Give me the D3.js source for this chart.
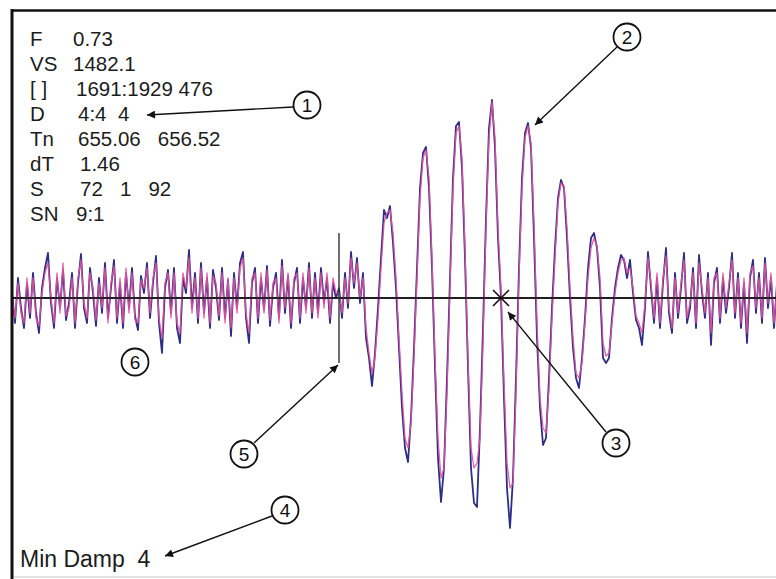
<!DOCTYPE html>
<html>
<head>
<meta charset="utf-8">
<script src="https://cdn.jsdelivr.net/npm/d3@7"></script>
<style>
  html, body { margin: 0; padding: 0; background: #fff; }
  svg { display: block; }
  text { font-family: "Liberation Sans", Arial, Helvetica, sans-serif; }
</style>
</head>
<body>
<svg id="chart" width="776" height="579"></svg>
<script>
// ---------------- DATA ----------------
// Waveform amplitudes (arbitrary units, + = up), one sample per time step
const blueTrace = [
  5, -25, 20, -10, -30, 15, -20, 25, -15, -35,
  10, 30, 45, -5, -30, 20, -10, 28, -22, -5,
  25, -30, 15, 44, -10, -25, 30, 5, -28, 20,
  -15, 35, -20, 10, 38, -25, 15, -30, 25, -10,
  30, -18, -32, 22, 5, 35, -20, 15, 42, -25,
  -55, 10, 28, -15, 30, -30, -45, 20, 5, 48,
  -10, 25, -25, 35, -15, 20, -30, 28, 10, -22,
  30, -20, 18, -38, 25, -10, 35, 46, -20, -45,
  15, 30, -25, 20, -12, 32, -28, 10, 25, -20,
  38, -15, 22, -30, 15, 30, -25, 20, -10, 35,
  -20, 25, -15, 30, -5, 20, -25, 15, 0, 10,
  -20, 25, -10, 46, 10, 40, -5, 25, -40, -60,
  -88, -55, -10, 40, 88, 80, 92, 55, 10, -50,
  -110, -150, -164, -120, -50, 30, 110, 145, 151, 110,
  30, -70, -160, -204, -170, -80, 20, 120, 172, 176,
  130, 40, -70, -170, -205, -209, -130, -30, 80, 170,
  198, 150, 60, 0, -100, -190, -230, -180, -80, 30,
  120, 165, 175, 150, 60, -40, -110, -147, -140, -80,
  -10, 50, 100, 118, 110, 60, 0, -50, -80, -90,
  -60, -20, 30, 60, 65, 50, 10, -60, -65, -60,
  -20, 10, 30, 43, 38, 20, 38, 5, -22, -30,
  -47, -10, 46, 10, -25, 20, -30, 15, 50, -15,
  -35, 25, -20, 10, 45, -25, -10, 30, -30, 43,
  5, -20, 25, -47, 15, 30, -25, 20, -15, 10,
  45, -20, 25, -30, 15, -45, 20, 38, -15, 25,
  -25, 40, -10, 20, -30, 15
];
const pinkTrace = [
  0, -20, 15, -15, -25, 20, -15, 20, -20, -28,
  5, 25, 35, 0, -25, 25, -15, 35, -18, -10,
  20, -25, 20, 38, -5, -20, 25, 10, -22, 15,
  -10, 30, -25, 15, 32, -20, 20, -25, 30, -15,
  25, -22, -25, 18, 10, 30, -15, 20, 35, -20,
  -40, 15, 25, -20, 25, -25, -35, 25, 10, 40,
  -15, 20, -20, 30, -20, 25, -25, 22, 15, -18,
  25, -25, 20, -30, 20, -15, 30, 40, -15, -35,
  20, 25, -20, 25, -15, 28, -22, 15, 20, -25,
  32, -10, 25, -25, 20, 25, -20, 25, -15, 30,
  -15, 20, -20, 25, -10, 25, -20, 20, 5, 5,
  -15, 20, -5, 40, 15, 35, 0, 20, -30, -55,
  -75, -60, -20, 30, 75, 85, 88, 65, 20, -40,
  -95, -140, -150, -125, -60, 20, 100, 140, 148, 120,
  40, -60, -140, -180, -170, -95, 10, 110, 165, 172,
  140, 50, -60, -150, -170, -165, -140, -45, 70, 160,
  196, 160, 70, 10, -85, -165, -190, -185, -95, 20,
  110, 160, 172, 155, 75, -25, -100, -130, -135, -90,
  -20, 40, 95, 115, 112, 70, 10, -40, -75, -80,
  -65, -25, 20, 50, 60, 52, 20, -45, -58, -55,
  -25, 5, 25, 38, 40, 25, 30, 10, -18, -25,
  -35, -5, 40, 15, -20, 25, -25, 20, 42, -10,
  -30, 20, -15, 15, 38, -20, -5, 25, -25, 35,
  10, -15, 20, -35, 20, 25, -20, 25, -10, 15,
  38, -15, 20, -25, 20, -35, 25, 32, -10, 20,
  -20, 35, -5, 25, -25, 10
];

// Readout text
const statLabels = ["F", "VS", "[ ]", "D", "Tn", "dT", "S", "SN"];
const statValues = ["0.73", "1482.1", "1691:1929 476", "4:4  4", "655.06   656.52", "1.46", "72   1   92", "9:1"];
const footerText = "Min Damp  4";

// Markers (sample indices)
const startMarkerIndex = 109;
const crossMarkerIndex = 163;

// Callout numbers
const calloutNumbers = ["1", "2", "3", "4", "5", "6"];

// ---------------- DRAWING ----------------
const svg = d3.select("#chart");
const W = 776, H = 579;

svg.append("rect").attr("width", W).attr("height", H).attr("fill", "#fff");

const N = blueTrace.length;
const x = d3.scaleLinear().domain([0, N - 1]).range([12, 12 + 3 * (N - 1)]);
const y = d3.scaleLinear().domain([-250, 250]).range([548, 48]);

const plot = svg.append("g");

plot.append("line")
  .attr("x1", 12).attr("x2", W).attr("y1", y(0)).attr("y2", y(0))
  .attr("stroke", "#111").attr("stroke-width", 1.6);

const line = d3.line().x((d, i) => x(i)).y(d => y(d));

plot.append("path").datum(blueTrace)
  .attr("d", line).attr("fill", "none")
  .attr("stroke", "#2e2e86").attr("stroke-width", 1.8)
  .attr("stroke-linejoin", "round");

plot.append("path").datum(pinkTrace)
  .attr("d", line).attr("fill", "none")
  .attr("stroke", "#e4509f").attr("stroke-width", 1.3)
  .attr("stroke-opacity", 0.9)
  .attr("stroke-linejoin", "round");

plot.append("line")
  .attr("x1", 12).attr("x2", W).attr("y1", y(0)).attr("y2", y(0))
  .attr("stroke", "#111").attr("stroke-width", 1.3);

// start marker vertical line
plot.append("line")
  .attr("x1", x(startMarkerIndex)).attr("x2", x(startMarkerIndex))
  .attr("y1", y(65)).attr("y2", y(-65))
  .attr("stroke", "#333").attr("stroke-width", 1.4);

// cross marker
const cx = x(crossMarkerIndex), cy = y(0), cs = 8;
plot.append("path")
  .attr("d", `M${cx - cs},${cy - cs}L${cx + cs},${cy + cs}M${cx - cs},${cy + cs}L${cx + cs},${cy - cs}`)
  .attr("stroke", "#111").attr("stroke-width", 1.6).attr("fill", "none");

// frame
svg.append("line").attr("x1", 12).attr("x2", 12).attr("y1", 9).attr("y2", 579)
  .attr("stroke", "#111").attr("stroke-width", 3);
svg.append("line").attr("x1", 11).attr("x2", W).attr("y1", 10.5).attr("y2", 10.5)
  .attr("stroke", "#111").attr("stroke-width", 2.5);
svg.append("line").attr("x1", 14).attr("x2", W).attr("y1", 577).attr("y2", 577)
  .attr("stroke", "#d8d8d8").attr("stroke-width", 1.5);

// readout text
const valueX = [73, 73, 76, 78, 78, 80, 80, 76];
const stats = svg.append("g").attr("fill", "#1c1c1c").style("font-size", "20.5px");
statLabels.forEach((lab, i) => {
  const by = 46 + i * 25;
  stats.append("text").attr("x", 30).attr("y", by).text(lab);
  stats.append("text").attr("x", valueX[i]).attr("y", by)
    .attr("xml:space", "preserve").style("white-space", "pre").text(statValues[i]);
});

svg.append("text").attr("x", 20).attr("y", 567)
  .attr("fill", "#1c1c1c").style("font-size", "23px")
  .attr("xml:space", "preserve").style("white-space", "pre")
  .text(footerText);

// arrowhead marker
const defs = svg.append("defs");
defs.append("marker")
  .attr("id", "arr").attr("viewBox", "0 0 10 10")
  .attr("refX", 10).attr("refY", 5)
  .attr("markerWidth", 11).attr("markerHeight", 8)
  .attr("markerUnits", "userSpaceOnUse")
  .attr("orient", "auto")
  .append("path").attr("d", "M0,0L10,5L0,10Z").attr("fill", "#111");

const callouts = [
  { c: [307, 105], a: [[293, 107], [147, 115]] },
  { c: [627, 37],  a: [[617, 47], [535, 125]] },
  { c: [616, 443], a: [[606, 432], [508, 312]] },
  { c: [285, 510], a: [[272, 516], [165, 556]] },
  { c: [244, 454], a: [[254, 443], [338, 365]] },
  { c: [135, 362], a: null }
];
const cg = svg.append("g");
callouts.forEach((d, i) => {
  if (d.a) {
    cg.append("line")
      .attr("x1", d.a[0][0]).attr("y1", d.a[0][1])
      .attr("x2", d.a[1][0]).attr("y2", d.a[1][1])
      .attr("stroke", "#111").attr("stroke-width", 1.4)
      .attr("marker-end", "url(#arr)");
  }
  cg.append("circle").attr("cx", d.c[0]).attr("cy", d.c[1]).attr("r", 13.5)
    .attr("fill", "#fff").attr("stroke", "#111").attr("stroke-width", 1.8);
  cg.append("text").attr("x", d.c[0]).attr("y", d.c[1] + 6.5)
    .attr("text-anchor", "middle").style("font-size", "19px").attr("fill", "#111")
    .text(calloutNumbers[i]);
});
</script>
</body>
</html>
